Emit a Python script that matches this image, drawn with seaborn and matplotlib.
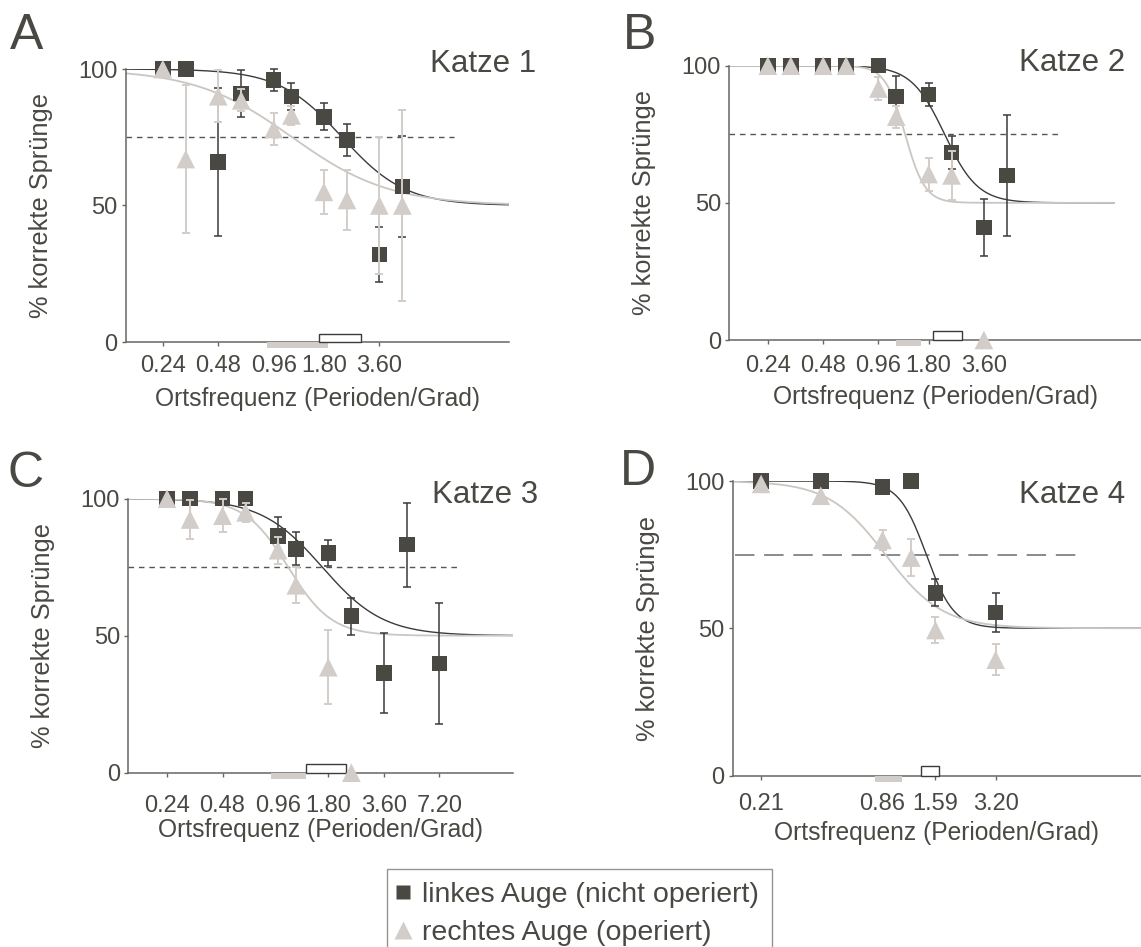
import numpy as np
import pandas as pd
import matplotlib.pyplot as plt
from matplotlib.lines import Line2D
from matplotlib.patches import Rectangle
from matplotlib.ticker import NullLocator
import seaborn as sns

### values
freq_abc = [0.24, 0.32, 0.48, 0.64, 0.96, 1.20, 1.80, 2.40, 3.60, 4.80, 7.20]
freq_d = [0.21, 0.42, 0.86, 1.20, 1.59, 3.20]

# Katze 1
k1_left = [100, 100, 66, 91, 96, 90, 82.5, 74, 32, 57]
k1_left_err = [0, 0, 27, 8.5, 4, 5, 5, 5.7, 10, 18.6]
k1_right = [100, 67, 90, 88.5, 78, 83, 55, 52, 50, 50]
k1_right_err = [0, 27, 9.5, 4, 6, 3.6, 8, 11, 25, 35]

# Katze 2
k2_left = [100, 100, 100, 100, 100, 88.7, 89.5, 68.3, 41, 60]
k2_left_err = [0, 0, 0, 0, 0, 7.4, 4.3, 6, 10.5, 22]
k2_right = [100, 100, 100, 100, 91.7, 81.4, 60.5, 60, 0]
k2_right_err = [0, 0, 0, 0, 4.2, 4, 6, 8.8, 0]

# Katze 3
k3_left = [100, 100, 100, 100, 86.4, 81.7, 80.2, 57.1, 36.4, 83.2, 39.9]
k3_left_err = [0, 0, 1, 0, 7, 6, 4.7, 6.7, 14.6, 15.3, 22]
k3_right = [100, 92.4, 93.8, 95, 81.2, 68.4, 38.5, 0]
k3_right_err = [0, 7, 6, 3.4, 5, 6.5, 13.5, 0]

# Katze 4
k4_left = [100, 100, 98, 100, 62, 55.3]
k4_left_err = [0, 0, 0, 0, 4.6, 6.7]
k4_right = [99, 95, 80, 74, 49.4, 39.3]
k4_right_err = [0, 0, 3.5, 6.2, 4.4, 5.3]

# fitted psychometric curves: (75 % threshold in c/deg, slope in octaves)
fit_left = [(2.26, 0.57), (2.20, 0.30), (1.67, 0.55), (1.43, 0.23)]
fit_right = [(1.21, 0.88), (1.34, 0.18), (1.09, 0.39), (0.89, 0.48)]

# threshold ranges (bars at the x axis)
thr_right = [(0.88, 1.89), (1.20, 1.63), (0.88, 1.36), (0.79, 1.08)]
thr_left = [(1.70, 2.85), (1.91, 2.75), (1.36, 2.24), (1.35, 1.65)]

tick_abc = [0.24, 0.48, 0.96, 1.80, 3.60, 7.20]
tick_abc_labels = ['0.24', '0.48', '0.96', '1.80', '3.60', '7.20']
tick_d = [0.21, 0.86, 1.59, 3.20]
tick_d_labels = ['0.21', '0.86', '1.59', '3.20']

panel_letters = ['A', 'B', 'C', 'D']
cat_names = ['Katze 1', 'Katze 2', 'Katze 3', 'Katze 4']
legend_labels = ['linkes Auge (nicht operiert)', 'rechtes Auge (operiert)']

DARK = '#4a4842'
LIGHT = '#d2cdc9'
CURVE_DARK = '#3b3b3b'
CURVE_LIGHT = '#cbc6c2'
TXT = '#4a4843'
AXC = '#666664'

W, H = 1141, 947


def fx(px):
    return px / W


def fy(py):
    return 1 - py / H


def logistic(f, f50, s):
    return 50 + 50 / (1 + np.exp((np.log2(f) - np.log2(f50)) / s))


def draw_panel(ax, i, xs_l, yl, el, xs_r, yr, er, xlim, curve_end, dash_end, ticks, labels, pad, dashed_long=False):
    ax.set_xscale('log', base=2)

    # fitted curves
    xx = np.geomspace(xlim[0], curve_end, 400)
    sns.lineplot(x=xx, y=logistic(xx, *fit_left[i]), ax=ax, color=CURVE_DARK, lw=1.0, zorder=2)
    sns.lineplot(x=xx, y=logistic(xx, *fit_right[i]), ax=ax, color=CURVE_LIGHT, lw=1.3, zorder=2)

    # 75 % criterion
    if dashed_long:
        ax.plot([xlim[0] * 1.03, dash_end], [75, 75], color='#8a8a88', lw=1.4, dashes=(10, 5), zorder=1)
    else:
        ax.plot([xlim[0], dash_end], [75, 75], color='#555553', lw=1.0, dashes=(4, 3.5), zorder=1)

    # left eye
    ax.errorbar(xs_l, yl, yerr=el, fmt='none', ecolor=CURVE_DARK, elinewidth=1.1,
                capsize=3.2, capthick=1.1, clip_on=False, zorder=3)
    sns.scatterplot(x=xs_l, y=yl, ax=ax, marker='s', s=125, color=DARK,
                    edgecolor='none', clip_on=False, zorder=4)
    # right eye
    ax.errorbar(xs_r, yr, yerr=er, fmt='none', ecolor=LIGHT, elinewidth=1.4,
                capsize=3.2, capthick=1.4, clip_on=False, zorder=5)
    sns.scatterplot(x=xs_r, y=yr, ax=ax, marker='^', s=180, color=LIGHT,
                    edgecolor='none', clip_on=False, zorder=6)

    # threshold bars
    r0, r1 = thr_right[i]
    ax.add_patch(Rectangle((r0, -2.2), r1 - r0, 2.2, facecolor=LIGHT, edgecolor='none',
                           clip_on=False, zorder=3))
    l0, l1 = thr_left[i]
    ax.add_patch(Rectangle((l0, 0), l1 - l0, 3.1, facecolor='white', edgecolor=CURVE_DARK,
                           lw=1.0, clip_on=False, zorder=3))

    ax.set_xlim(xlim)
    ax.set_ylim(0, 100)
    ax.set_xticks(ticks)
    ax.set_xticklabels(labels)
    ax.xaxis.set_minor_locator(NullLocator())
    ax.set_yticks([0, 50, 100])
    ax.set_yticklabels(['0', '50', '100'])
    ax.tick_params(axis='both', labelsize=17, colors=AXC, labelcolor=TXT, length=3, width=1)
    ax.tick_params(axis='x', pad=pad)
    ax.tick_params(axis='y', pad=3)
    sns.despine(ax=ax)
    for sp in ['left', 'bottom']:
        ax.spines[sp].set_color(AXC)
        ax.spines[sp].set_linewidth(1.1)

    ax.set_xlabel('Ortsfrequenz (Perioden/Grad)', fontsize=17.7, color=TXT)
    ax.set_ylabel('% korrekte Sprünge', fontsize=18.3, color=TXT)
    ax.xaxis.label.set_va('center')
    ax.yaxis.label.set_va('center')


sns.set_theme(style='ticks')
plt.rcParams['font.family'] = ['Liberation Sans', 'DejaVu Sans']

fig = plt.figure(figsize=(W / 100, H / 100), dpi=100)

# axes boxes in pixels: left, top (100 %), right, bottom (0 %)
boxes = [(126, 69, 508.5, 342), (729.3, 65.7, 1141, 340),
         (128.3, 498.7, 512.7, 772.7), (732.7, 481, 1141, 775.5)]
xlims = [(0.1515, 18.1), (0.148, 25.8), (0.148, 18.0), (0.151, 17.3)]
curve_ends = [18.1, 18.4, 18.0, 17.3]
dash_ends = [9.1, 9.1, 9.1, 8.4]
pads = [6.2, 7.6, 12.7, 9.9]

panels = [
    (freq_abc[:10], k1_left, k1_left_err, freq_abc[:10], k1_right, k1_right_err, tick_abc[:5], tick_abc_labels[:5]),
    (freq_abc[:10], k2_left, k2_left_err, freq_abc[:9], k2_right, k2_right_err, tick_abc[:5], tick_abc_labels[:5]),
    (freq_abc, k3_left, k3_left_err, freq_abc[:8], k3_right, k3_right_err, tick_abc, tick_abc_labels),
    (freq_d, k4_left, k4_left_err, freq_d, k4_right, k4_right_err, tick_d, tick_d_labels),
]

for i, (bx, p) in enumerate(zip(boxes, panels)):
    l, t, r, b = bx
    ax = fig.add_axes([fx(l), fy(b), (r - l) / W, (b - t) / H])
    ax.set_facecolor('none')
    draw_panel(ax, i, p[0], p[1], p[2], p[3], p[4], p[5], xlims[i], curve_ends[i], dash_ends[i],
               p[6], p[7], pads[i], dashed_long=(i == 3))
    ax.xaxis.set_label_coords(0.5, -57 / (b - t))
    ax.yaxis.set_label_coords(-85 / (r - l), 0.5)

# panel letters and titles
letter_pos = [(10, 49), (623, 49), (8, 487), (620, 485)]
title_pos = [(430, 72), (1019, 71), (432, 503), (1019, 503)]
for i in range(4):
    fig.text(fx(letter_pos[i][0]), fy(letter_pos[i][1]), panel_letters[i], fontsize=36,
             color=TXT, va='baseline', ha='left')
    fig.text(fx(title_pos[i][0]), fy(title_pos[i][1]), cat_names[i], fontsize=22.5,
             color=TXT, va='baseline', ha='left')

handles = [Line2D([], [], ls='none', marker='s', ms=10.5, color=DARK, mec='none'),
           Line2D([], [], ls='none', marker='^', ms=13, color=LIGHT, mec='none')]
leg = fig.legend(handles, legend_labels, loc='upper left', bbox_to_anchor=(fx(386.7), fy(869)),
                 frameon=True, fancybox=False, borderaxespad=0, borderpad=0.46,
                 handlelength=0.2, handletextpad=0.58, labelspacing=0.43, fontsize=20.5)
leg.get_frame().set_edgecolor('#7a7a78')
leg.get_frame().set_linewidth(1.0)
for t in leg.get_texts():
    t.set_color(TXT)

fig.savefig('out.png', dpi=100)
